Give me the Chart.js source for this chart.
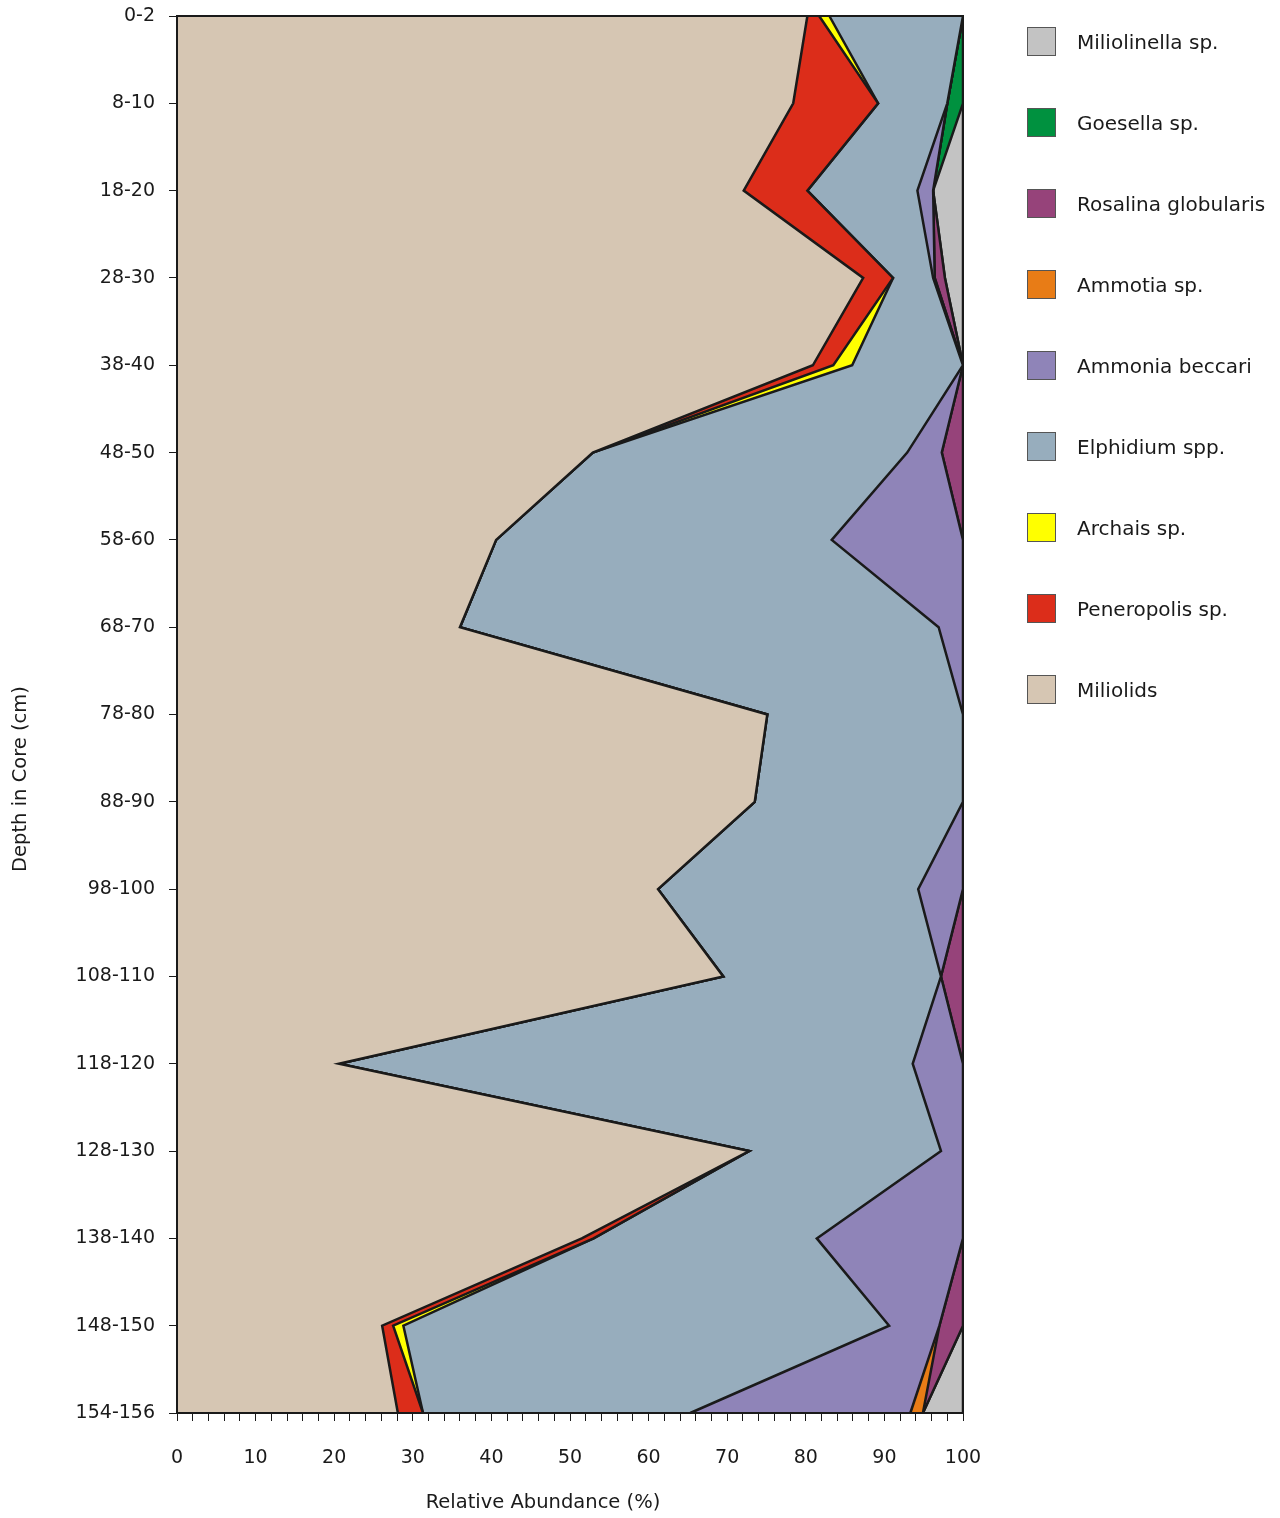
<!DOCTYPE html>
<html>
<head>
<meta charset="utf-8">
<script src="https://cdn.jsdelivr.net/npm/chart.js@4.4.1/dist/chart.umd.min.js"></script>
<style>
  html, body { margin: 0; padding: 0; background: #ffffff; }
  #wrap { position: relative; width: 1280px; height: 1518px; }
  #legend { position: absolute; left: 1027px; top: 27px; margin: 0; padding: 0; list-style: none;
            font-family: "DejaVu Sans", sans-serif; font-size: 20px; color: #1a1a1a; }
  #legend li { display: flex; align-items: center; height: 29px; margin-bottom: 52px; white-space: nowrap; }
  #legend .box { width: 27px; height: 27px; border: 1px solid #555; margin-right: 21px; flex: none; }
</style>
</head>
<body>
<div id="wrap">
  <canvas id="c" width="1280" height="1518"></canvas>
  <ul id="legend"></ul>
</div>
<script>
// ---- Data ----
const depths = ['0-2','8-10','18-20','28-30','38-40','48-50','58-60','68-70','78-80','88-90','98-100','108-110','118-120','128-130','138-140','148-150','154-156'];

const miliolids    = [80.2, 78.4, 72.1, 87.3, 80.9, 52.9, 40.6, 36.0, 75.1, 73.5, 61.2, 69.5, 20.6, 72.8, 51.5, 26.1, 28.1];
const peneropolis  = [1.5, 10.8, 8.1, 3.8, 2.6, 0, 0, 0, 0, 0, 0, 0, 0, 0, 1.5, 1.4, 3.2];
const archais      = [1.3, 0, 0, 0, 2.4, 0, 0, 0, 0, 0, 0, 0, 0, 0, 0, 1.3, 0];
const elphidium    = [17.0, 8.8, 14.0, 5.1, 14.1, 40.0, 42.7, 60.9, 24.9, 26.5, 33.1, 27.7, 73.0, 24.4, 28.4, 61.8, 34.0];
const ammonia      = [0, 0, 2.0, 0.2, 0, 4.4, 16.7, 3.1, 0, 0, 5.7, 0, 6.4, 2.8, 18.6, 6.4, 28.0];
const ammotia      = [0, 0, 0, 0, 0, 0, 0, 0, 0, 0, 0, 0, 0, 0, 0, 0, 1.6];
const rosalina     = [0, 0, 0, 1.3, 0, 2.7, 0, 0, 0, 0, 0, 2.8, 0, 0, 0, 3.0, 0];
const goesella     = [0, 2.0, 0, 0, 0, 0, 0, 0, 0, 0, 0, 0, 0, 0, 0, 0, 0];
const miliolinella = [0, 0, 3.8, 2.3, 0, 0, 0, 0, 0, 0, 0, 0, 0, 0, 0, 0, 5.1];

const xTicksMin = 0, xTicksMax = 100, xMinorStep = 2, xMajorStep = 10;
const xTitle = 'Relative Abundance (%)';
const yTitle = 'Depth in Core (cm)';

const seriesNames  = ['Miliolids','Peneropolis sp.','Archais sp.','Elphidium spp.','Ammonia beccari','Ammotia sp.','Rosalina globularis','Goesella sp.','Miliolinella sp.'];
const seriesData   = [miliolids, peneropolis, archais, elphidium, ammonia, ammotia, rosalina, goesella, miliolinella];
const seriesColors = ['#D6C6B3','#DC2D1A','#FFFF00','#97ADBD','#8F84B8','#E87C16','#96437A','#00913F','#C3C3C3'];

const FONT = '"DejaVu Sans", sans-serif';
const INK = '#1a1a1a';

const datasets = seriesNames.map((name, i) => ({
  label: name,
  data: seriesData[i],
  backgroundColor: seriesColors[i],
  borderColor: INK,
  borderWidth: 2.5,
  borderJoinStyle: 'miter',
  pointRadius: 0,
  pointHoverRadius: 0,
  tension: 0,
  fill: i === 0 ? 'origin' : '-1'
}));

const titlesAndFrame = {
  id: 'titlesAndFrame',
  afterDraw(chart) {
    const ctx = chart.ctx;
    const a = chart.chartArea;
    ctx.save();
    ctx.strokeStyle = INK;
    ctx.lineWidth = 2;
    ctx.strokeRect(a.left, a.top, a.right - a.left, a.bottom - a.top);
    ctx.fillStyle = INK;
    ctx.font = '19.5px ' + FONT;
    ctx.textAlign = 'center';
    ctx.textBaseline = 'middle';
    ctx.fillText(xTitle, 543, 1503);
    ctx.translate(21, 779);
    ctx.rotate(-Math.PI / 2);
    ctx.fillText(yTitle, 0, 0);
    ctx.restore();
  }
};

const htmlLegend = {
  id: 'htmlLegend',
  afterUpdate(chart) {
    const ul = document.getElementById('legend');
    ul.innerHTML = '';
    const items = chart.data.datasets.map((d) => ({ text: d.label, color: d.backgroundColor })).reverse();
    items.forEach((it) => {
      const li = document.createElement('li');
      const box = document.createElement('span');
      box.className = 'box';
      box.style.background = it.color;
      const t = document.createElement('span');
      t.textContent = it.text;
      li.appendChild(box);
      li.appendChild(t);
      ul.appendChild(li);
    });
  }
};

new Chart(document.getElementById('c'), {
  type: 'line',
  data: { labels: depths, datasets },
  plugins: [titlesAndFrame, htmlLegend],
  options: {
    indexAxis: 'y',
    responsive: false,
    devicePixelRatio: 1,
    animation: false,
    layout: { padding: { left: 0, right: 317, top: 16, bottom: 0 } },
    plugins: { legend: { display: false }, tooltip: { enabled: false } },
    scales: {
      x: {
        type: 'linear',
        stacked: true,
        min: xTicksMin,
        max: xTicksMax,
        afterFit(scale) { scale.height = 105; scale.paddingLeft = 0; scale.paddingRight = 0; },
        ticks: {
          stepSize: xMinorStep,
          autoSkip: false,
          maxRotation: 0,
          padding: 26,
          color: INK,
          font: { family: FONT, size: 19 },
          callback: (v) => (v % xMajorStep === 0 ? String(v) : '')
        },
        grid: { drawOnChartArea: false, drawTicks: true, tickLength: 8, tickColor: INK, tickWidth: 1 },
        border: { display: true, color: INK, width: 2 }
      },
      y: {
        type: 'category',
        stacked: true,
        offset: false,
        afterFit(scale) { scale.width = 177; scale.paddingTop = 0; scale.paddingBottom = 0; },
        ticks: {
          autoSkip: false,
          padding: 14,
          color: INK,
          font: { family: FONT, size: 19 }
        },
        grid: { drawOnChartArea: false, drawTicks: true, tickLength: 8, tickColor: INK, tickWidth: 1 },
        border: { display: true, color: INK, width: 2 }
      }
    }
  }
});
</script>
</body>
</html>
